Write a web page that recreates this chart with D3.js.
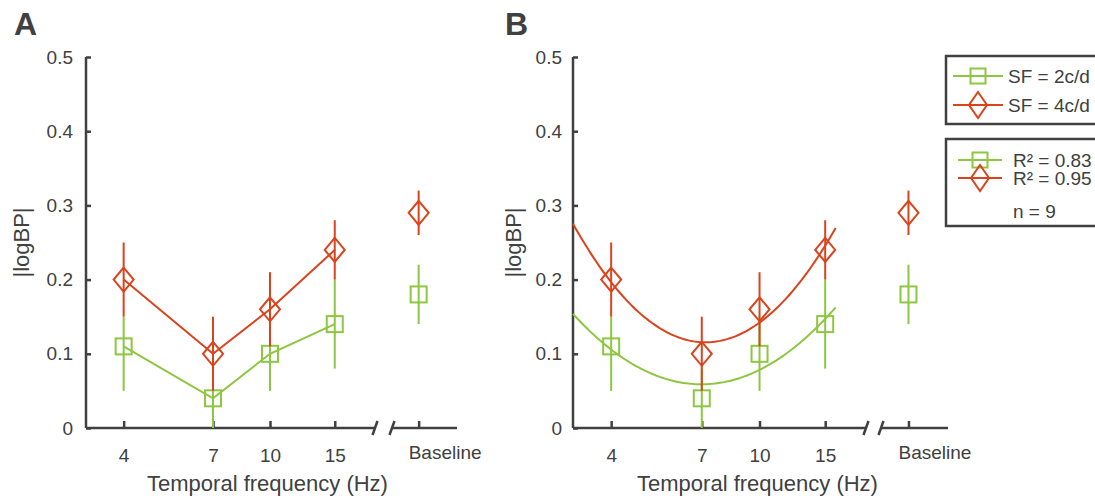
<!DOCTYPE html>
<html lang="en">
<head>
  <meta charset="UTF-8">
  <title>logBP vs temporal frequency</title>
  <style>
    body { margin: 0; background: #fff; }
    text { font-family: "Liberation Sans", Arial, Helvetica, sans-serif; fill: #404040; }
  </style>
</head>
<body>
  <svg id="container" width="1095" height="500"></svg>
<script src="https://cdn.jsdelivr.net/npm/d3@7"></script>
<script>
  // values
  let freqs = [4, 7, 10, 15]
  let freqLabels = ["4", "7", "10", "15"]
  let sf2Mean = [0.11, 0.04, 0.10, 0.14]
  let sf2Lo   = [0.05, 0.00, 0.05, 0.08]
  let sf2Hi   = [0.15, 0.08, 0.15, 0.20]
  let sf4Mean = [0.20, 0.10, 0.16, 0.24]
  let sf4Lo   = [0.15, 0.05, 0.11, 0.20]
  let sf4Hi   = [0.25, 0.15, 0.21, 0.28]
  let sf2Base = [0.18, 0.14, 0.22]   // mean, lo, hi
  let sf4Base = [0.29, 0.26, 0.32]
  let yTicks = [0, 0.1, 0.2, 0.3, 0.4, 0.5]
  let legendLabels = ["SF = 2c/d", "SF = 4c/d"]
  let fitLabels = ["R\u00b2 = 0.83", "R\u00b2 = 0.95"]
  let nLabel = "n = 9"

  let green = "#8dc641"
  let red = "#da431c"
  let ink = "#404040"

  let svg = d3.select("#container")

  // least squares quadratic in log10(f)
  function quadFit(xs, ys) {
    let u = xs.map(x => Math.log10(x))
    let S = [[0,0,0],[0,0,0],[0,0,0]], r = [0,0,0]
    u.forEach((ui, i) => {
      let p = [1, ui, ui * ui]
      for (let a = 0; a < 3; a++) {
        r[a] += p[a] * ys[i]
        for (let b = 0; b < 3; b++) S[a][b] += p[a] * p[b]
      }
    })
    for (let k = 0; k < 3; k++) {
      for (let i = k + 1; i < 3; i++) {
        let f = S[i][k] / S[k][k]
        for (let j = k; j < 3; j++) S[i][j] -= f * S[k][j]
        r[i] -= f * r[k]
      }
    }
    let c = [0,0,0]
    for (let i = 2; i >= 0; i--) {
      let s = r[i]
      for (let j = i + 1; j < 3; j++) s -= S[i][j] * c[j]
      c[i] = s / S[i][i]
    }
    return f => { let v = Math.log10(f); return c[0] + c[1] * v + c[2] * v * v }
  }

  function square(g, x, y, color, s) {
    g.append("rect").attr("x", x - s / 2).attr("y", y - s / 2)
      .attr("width", s).attr("height", s)
      .attr("fill", "none").attr("stroke", color).attr("stroke-width", 2)
  }
  function diamond(g, x, y, color, w, h) {
    g.append("path")
      .attr("d", `M${x},${y - h / 2}L${x + w / 2},${y}L${x},${y + h / 2}L${x - w / 2},${y}Z`)
      .attr("fill", "none").attr("stroke", color).attr("stroke-width", 2)
  }

  function drawPanel(p) {
    let g = svg.append("g")
    let x = d3.scaleLog().domain([3.16, 19.3]).range([p.x0, p.xBreak])
    let xb = d3.scalePoint().domain(["Baseline"]).range([p.xb0, p.xb1]).align(0.41)
    let y = d3.scaleLinear().domain([0, 0.5]).range([428, 57])

    // y axis
    let yAxis = g.append("g").attr("transform", `translate(${p.x0},0)`)
      .call(d3.axisLeft(y).tickValues(yTicks).tickSize(-5).tickPadding(p.yPad)
        .tickFormat(d => d === 0 ? "0" : d3.format(".1f")(d)))
    yAxis.select(".domain").attr("d", `M0,${y(0.5)}V${y(0)}`)

    // x axis, broken in two parts
    let xAxis = g.append("g").attr("transform", `translate(0,${y(0)})`)
      .call(d3.axisBottom(x).tickValues(freqs).tickSize(-7).tickPadding(21)
        .tickFormat((d, i) => freqLabels[i]))
    xAxis.select(".domain").attr("d", `M${p.x0},0H${p.xBreak}`)
    let xAxis2 = g.append("g").attr("transform", `translate(0,${y(0)})`)
      .call(d3.axisBottom(xb).tickSize(-7).tickFormat(""))
    xAxis2.select(".domain").attr("d", `M${p.xb0},0H${p.xb1}`)
    g.append("text").attr("x", xb("Baseline") - 10).attr("y", y(0) + 31)
      .attr("font-size", 19).text("Baseline")

    g.selectAll(".domain, .tick line").attr("stroke", ink).attr("stroke-width", 2.5)
    g.selectAll(".tick text").attr("font-size", 19).attr("fill", ink)
      .attr("font-family", "'Liberation Sans', Arial, sans-serif")

    // break marks
    ;[p.xBreak, p.xb0].forEach(bx => {
      g.append("line").attr("x1", bx - 2.5).attr("y1", y(0) + 7)
        .attr("x2", bx + 2.5).attr("y2", y(0) - 7)
        .attr("stroke", ink).attr("stroke-width", 2.5)
    })

    // labels
    g.append("text").attr("x", p.letterX).attr("y", 35)
      .attr("font-size", 32).attr("font-weight", "bold").text(p.letter)
    g.append("text").attr("transform", `translate(${p.ylabX},${(y(0) + y(0.5)) / 2}) rotate(-90)`)
      .attr("text-anchor", "middle").attr("dominant-baseline", "central")
      .attr("font-size", 22).text("|logBP|")
    g.append("text").attr("x", (p.x0 + p.xb1) / 2 + p.xlabDx).attr("y", 491)
      .attr("text-anchor", "middle").attr("font-size", 22).text("Temporal frequency (Hz)")

    let series = [
      { mean: sf2Mean, lo: sf2Lo, hi: sf2Hi, base: sf2Base, color: green, mark: "sq" },
      { mean: sf4Mean, lo: sf4Lo, hi: sf4Hi, base: sf4Base, color: red, mark: "di" }
    ]

    series.forEach(s => {
      let pts = freqs.map((f, i) => [x(f), y(s.mean[i])])
      if (p.fit) {
        let fn = quadFit(freqs, s.mean)
        let xs = d3.range(0, 101).map(k => Math.exp(Math.log(3.16) + k / 100 * (Math.log(16) - Math.log(3.16))))
        g.append("path").datum(xs)
          .attr("d", d3.line().x(f => x(f)).y(f => y(fn(f))))
          .attr("fill", "none").attr("stroke", s.color).attr("stroke-width", 2)
      } else {
        g.append("path").datum(pts).attr("d", d3.line())
          .attr("fill", "none").attr("stroke", s.color).attr("stroke-width", 2)
      }
      freqs.forEach((f, i) => {
        g.append("line").attr("x1", x(f)).attr("x2", x(f))
          .attr("y1", y(s.lo[i])).attr("y2", y(s.hi[i]))
          .attr("stroke", s.color).attr("stroke-width", 2)
      })
      let bx = xb("Baseline")
      g.append("line").attr("x1", bx).attr("x2", bx)
        .attr("y1", y(s.base[1])).attr("y2", y(s.base[2]))
        .attr("stroke", s.color).attr("stroke-width", 2)
      let all = pts.concat([[bx, y(s.base[0])]])
      all.forEach(([px, py]) => {
        if (s.mark === "sq") square(g, px, py, s.color, 16)
        else diamond(g, px, py, s.color, 20, 24)
      })
    })
  }

  drawPanel({ letter: "A", letterX: 14, ylabX: 21, x0: 86, xBreak: 375, xb0: 392, xb1: 457, xlabDx: -4, yPad: 13, fit: false })
  drawPanel({ letter: "B", letterX: 505, ylabX: 513, x0: 573, xBreak: 866, xb0: 881, xb1: 948, xlabDx: -3, yPad: 11, fit: true })

  // legends
  let leg = svg.append("g")
  leg.append("rect").attr("x", 946).attr("y", 56).attr("width", 160).attr("height", 68)
    .attr("fill", "#fff").attr("stroke", ink).attr("stroke-width", 2.5)
  leg.append("rect").attr("x", 946).attr("y", 139).attr("width", 160).attr("height", 87)
    .attr("fill", "#fff").attr("stroke", ink).attr("stroke-width", 2.5)

  let legRows = [
    { y: 76, label: legendLabels[0], color: green, mark: "sq", x0: 953, x1: 1003, tx: 1008, ty: 83 },
    { y: 105, label: legendLabels[1], color: red, mark: "di", x0: 953, x1: 1003, tx: 1008, ty: 112 },
    { y: 160, label: fitLabels[0], color: green, mark: "sq", x0: 958, x1: 1002, tx: 1013, ty: 167 },
    { y: 178, label: fitLabels[1], color: red, mark: "di", x0: 958, x1: 1002, tx: 1013, ty: 185 }
  ]
  legRows.forEach(r => {
    let cx = (r.x0 + r.x1) / 2
    leg.append("line").attr("x1", r.x0).attr("x2", r.x1).attr("y1", r.y).attr("y2", r.y)
      .attr("stroke", r.color).attr("stroke-width", 2)
    if (r.mark === "sq") square(leg, cx, r.y, r.color, 15)
    else diamond(leg, cx, r.y, r.color, 18, 26)
    leg.append("text").attr("x", r.tx).attr("y", r.ty).attr("font-size", 19).text(r.label)
  })
  leg.append("text").attr("x", 1013).attr("y", 218).attr("font-size", 19).text(nLabel)
</script>
</body>
</html>
